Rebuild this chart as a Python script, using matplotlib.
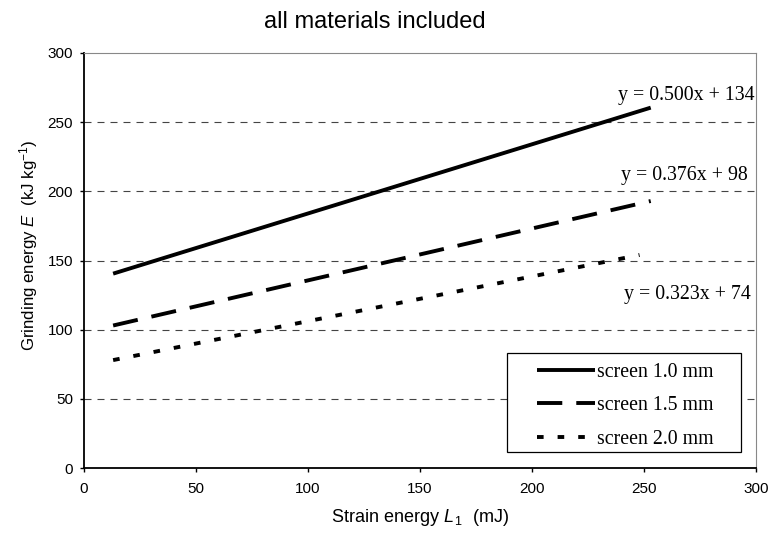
import matplotlib.pyplot as plt
from matplotlib.patches import Rectangle

plt.rcParams["mathtext.fontset"] = "custom"
plt.rcParams["mathtext.it"] = "Liberation Sans:italic"
plt.rcParams["mathtext.rm"] = "Liberation Sans"

# endpoints of the fitted lines
x_screen10 = [13, 253]
y_screen10 = [140.5, 260.5]
x_screen15 = [13, 253]
y_screen15 = [103, 193]
x_screen20 = [13, 248]
y_screen20 = [78, 154]

labels = ["screen 1.0 mm", "screen 1.5 mm", "screen 2.0 mm"]
equations = ["y = 0.500x + 134", "y = 0.376x + 98", "y = 0.323x + 74"]
eq_x = [299.5, 296.5, 297.5]
eq_y = [269.6, 211.8, 125.1]

serif = "Liberation Serif"
sans = "Liberation Sans"
W, H = 776, 540

fig = plt.figure(figsize=(W / 100, H / 100), dpi=100)
ax = fig.add_axes([84 / W, 72 / H, 672 / W, 415 / H])

lw = 2.8
ax.plot(x_screen10, y_screen10, color="black", lw=lw, solid_capstyle="butt", label=labels[0])
ax.plot(x_screen15, y_screen15, color="black", lw=lw, dashes=(6.5, 3.6), label=labels[1])
ax.plot(x_screen20, y_screen20, color="black", lw=lw, dashes=(1.7, 3.6), label=labels[2])

for txt, xx, yy in zip(equations, eq_x, eq_y):
    ax.text(xx, yy, txt, ha="right", va="center", fontsize=14.3, family=serif)

ax.set_xlim(0, 300)
ax.set_ylim(0, 300)
ax.set_xticks(range(0, 301, 50))
ax.set_yticks(range(0, 301, 50))
for yy in range(50, 300, 50):
    ax.axhline(yy, color="#444444", lw=0.8, dashes=(6.3, 5.4), zorder=0)

ax.tick_params(direction="out", length=3, width=1, labelsize=11)
ax.tick_params(axis="x", pad=7)
ax.tick_params(axis="y", pad=5)
for lab in ax.get_xticklabels() + ax.get_yticklabels():
    lab.set_family(sans)
for s in ["top", "right"]:
    ax.spines[s].set_color("#888888")
for s in ["left", "bottom"]:
    ax.spines[s].set_linewidth(1.3)

ax.set_xlabel("Strain energy $\\mathit{L}_{\\,\\mathit{1}}$  (mJ)", family=sans, fontsize=13, labelpad=8)
ax.set_ylabel("Grinding energy $\\mathit{E}$  (kJ kg$^{-1}$)", family=sans, fontsize=12.2)
ax.yaxis.set_label_coords(-0.066, (468 - 245) / 415)

fig.text(374.5 / W, 1 - 28 / H, "all materials included", ha="center", va="baseline",
         fontsize=17, family=sans)

# legend frame drawn separately so its padding can match the reference
def px(x, y):
    return (x - 84) / 672, (468 - y) / 415

x0, y0 = px(507, 452)
x1, y1 = px(741, 353)
ax.add_patch(Rectangle((x0, y0), x1 - x0, y1 - y0, transform=ax.transAxes,
                       facecolor="white", edgecolor="black", lw=0.9, zorder=4))
leg = ax.legend(loc="upper left", bbox_to_anchor=px(537, 363), prop={"family": serif, "size": 14.3},
                frameon=False, handlelength=2.93, handletextpad=0.1, borderpad=0,
                borderaxespad=0, labelspacing=0.72)
leg.set_zorder(5)

fig.savefig("out.png", dpi=100)
